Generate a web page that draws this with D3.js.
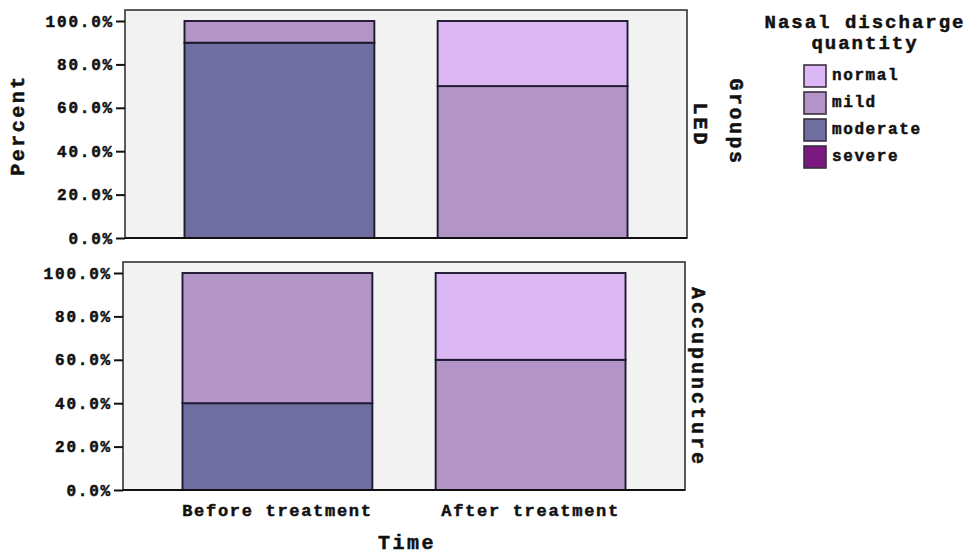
<!DOCTYPE html>
<html>
<head>
<meta charset="utf-8">
<script src="https://cdn.jsdelivr.net/npm/d3@7"></script>
<style>
  body { margin: 0; background: #fff; }
  text { font-family: "Liberation Mono", "DejaVu Sans Mono", monospace; font-weight: bold;
         fill: #111; stroke: #111; stroke-width: 0.5px; }
</style>
</head>
<body>
<svg id="chart" width="970" height="555"></svg>
<script>
////////////////////////////////////////////////////////////////////////////////
// Data
var times = ["Before treatment", "After treatment"]
var groups = ["LED", "Accupuncture"]
var levels = ["severe", "moderate", "mild", "normal"]   // stack order, bottom up
var legendOrder = ["normal", "mild", "moderate", "severe"]
var colors = ["#7a1a80", "#6e6fa0", "#b394c7", "#dbb8f4"]
var ledSevere   = [0, 0]
var ledModerate = [90, 0]
var ledMild     = [10, 70]
var ledNormal   = [0, 30]
var acuSevere   = [0, 0]
var acuModerate = [40, 0]
var acuMild     = [60, 60]
var acuNormal   = [0, 40]
var yTicks = [0, 20, 40, 60, 80, 100]

var panelData = [
  [ledSevere, ledModerate, ledMild, ledNormal],
  [acuSevere, acuModerate, acuMild, acuNormal]
]

////////////////////////////////////////////////////////////////////////////////
// Layout
var panelW = 562
var panelH = 228
var panelPos = [[125, 10], [123, 262]]

var svg = d3.select("#chart")

var x = d3.scaleBand().domain(times).range([0, panelW])
  .paddingInner(0.25).paddingOuter(0.235)
var y = d3.scaleLinear().domain([0, 100]).range([panelH, 11])
var color = d3.scaleOrdinal().domain(levels).range(colors)

var stack = d3.stack().keys(levels)

panelData.forEach(function(series, gi) {
  var rows = times.map(function(t, ti) {
    var r = { time: t }
    levels.forEach(function(l, li) { r[l] = series[li][ti] })
    return r
  })
  var layers = stack(rows)

  var g = svg.append("g")
    .attr("transform", "translate(" + panelPos[gi][0] + "," + panelPos[gi][1] + ")")

  g.append("rect")
    .attr("width", panelW).attr("height", panelH)
    .attr("fill", "#f2f2f2")

  g.selectAll("g.layer")
    .data(layers)
    .join("g")
    .attr("class", "layer")
    .attr("fill", d => color(d.key))
    .selectAll("rect")
    .data(d => d.filter(s => s[1] - s[0] > 0))
    .join("rect")
    .attr("x", d => x(d.data.time))
    .attr("width", x.bandwidth())
    .attr("y", d => y(d[1]))
    .attr("height", d => y(d[0]) - y(d[1]))
    .attr("stroke", "#1e1830")
    .attr("stroke-width", 1.9)

  g.append("rect")
    .attr("width", panelW).attr("height", panelH)
    .attr("fill", "none")
    .attr("stroke", "#333")
    .attr("stroke-width", 1.6)
  g.append("line")
    .attr("x1", 0).attr("x2", panelW)
    .attr("y1", panelH).attr("y2", panelH)
    .attr("stroke", "#111").attr("stroke-width", 2)

  var yAxis = g.append("g")
    .call(d3.axisLeft(y).tickValues(yTicks).tickSize(9)
      .tickFormat(d => d3.format(".1f")(d) + "%"))
  yAxis.select(".domain").remove()
  yAxis.selectAll(".tick line").attr("stroke", "#111").attr("stroke-width", 2)
  yAxis.selectAll(".tick text")
    .attr("x", -11)
    .style("font-size", "16px")
    .style("letter-spacing", "1.8px")
    .attr("fill", "#111")

  // facet label
  svg.append("text")
    .attr("transform", "translate(" + (panelPos[gi][0] + panelW + 12) + "," + (panelPos[gi][1] + panelH / 2 + 1) + ") rotate(90)")
    .attr("text-anchor", "middle")
    .attr("dominant-baseline", "central")
    .style("font-size", "20px")
    .style("letter-spacing", "3px")
    .text(groups[gi])

  if (gi == 1) {
    var xAxis = g.append("g")
      .attr("transform", "translate(0," + panelH + ")")
      .call(d3.axisBottom(x).tickSize(0).tickPadding(14))
    xAxis.select(".domain").remove()
    xAxis.selectAll(".tick text")
      .style("font-size", "17px")
      .style("letter-spacing", "1.7px")
      .attr("fill", "#111")
  }
})

////////////////////////////////////////////////////////////////////////////////
// Axis titles
svg.append("text")
  .attr("transform", "translate(18,125) rotate(-90)")
  .attr("text-anchor", "middle")
  .attr("dominant-baseline", "central")
  .style("font-size", "20px")
  .style("letter-spacing", "2.5px")
  .text("Percent")

svg.append("text")
  .attr("x", 407).attr("y", 549)
  .attr("text-anchor", "middle")
  .style("font-size", "20px")
  .style("letter-spacing", "2.5px")
  .text("Time")

svg.append("text")
  .attr("transform", "translate(735,122) rotate(90)")
  .attr("text-anchor", "middle")
  .attr("dominant-baseline", "central")
  .style("font-size", "20px")
  .style("letter-spacing", "2.5px")
  .text("Groups")

////////////////////////////////////////////////////////////////////////////////
// Legend
var legend = svg.append("g")
svg.append("text")
  .attr("x", 865).attr("y", 28)
  .attr("text-anchor", "middle")
  .style("font-size", "19px")
  .style("letter-spacing", "2px")
  .text("Nasal discharge")
svg.append("text")
  .attr("x", 865).attr("y", 49)
  .attr("text-anchor", "middle")
  .style("font-size", "19px")
  .style("letter-spacing", "2px")
  .text("quantity")

var items = legend.selectAll("g")
  .data(legendOrder)
  .join("g")
  .attr("transform", (d, i) => "translate(804," + (65 + i * 27) + ")")
items.append("rect")
  .attr("width", 22).attr("height", 22)
  .attr("fill", d => color(d))
  .attr("stroke", "#3a3040")
  .attr("stroke-width", 1.6)
items.append("text")
  .attr("x", 28).attr("y", 11)
  .attr("dominant-baseline", "central")
  .style("font-size", "16px")
  .style("letter-spacing", "1.6px")
  .text(d => d)
</script>
</body>
</html>
